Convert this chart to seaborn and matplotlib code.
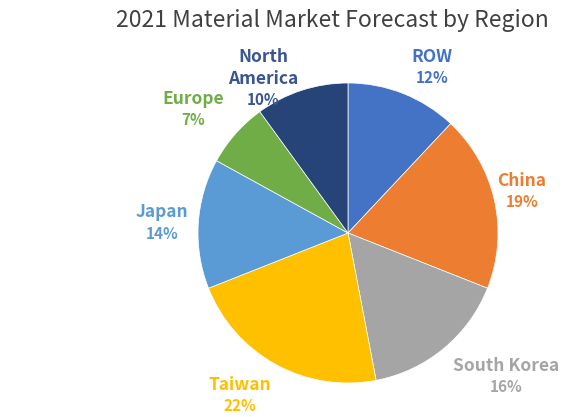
import numpy as np
import matplotlib
matplotlib.use("Agg")
import matplotlib.pyplot as plt
import seaborn as sns

regions = ["ROW", "China", "South Korea", "Taiwan", "Japan", "Europe", "North\nAmerica"]
shares = [12, 19, 16, 22, 14, 7, 10]
colors = ["#4472C4", "#ED7D31", "#A5A5A5", "#FFC000", "#5B9BD5", "#70AD47", "#264478"]
label_colors = ["#4472C4", "#ED7D31", "#A5A5A5", "#FFC000", "#5B9BD5", "#70AD47", "#3A5591"]
# label anchor positions in polar form (radius in pie radii, angle in degrees)
label_dist = [1.231, 1.191, 1.427, 1.306, 1.241, 1.319, 1.106]
label_angle = [62.9, 13.1, -42.4, -123.4, 177.2, 141.6, 120.8]

sns.set_theme(style="white")
plt.rcParams['font.family'] = ['Noto Sans CJK SC', 'DejaVu Sans']

fig = plt.figure(figsize=(5.63, 4.17), dpi=100)
W, H = 563, 417
cx, cy, r = 348, 417 - 233, 150
ax = fig.add_axes([(cx - r) / W, (cy - r) / H, 2 * r / W, 2 * r / H])

wedges, _ = ax.pie(shares, colors=colors, startangle=90, counterclock=False,
                   radius=1, wedgeprops=dict(edgecolor="white", linewidth=0.5))
ax.set_xlim(-1, 1)
ax.set_ylim(-1, 1)
ax.set_aspect("equal")
ax.axis("off")

for name, val, col, d, a in zip(regions, shares, label_colors, label_dist, label_angle):
    t = np.deg2rad(a)
    x, y = d * np.cos(t), d * np.sin(t)
    ax.annotate(name, (x, y), xytext=(0, 1.8), textcoords="offset points", ha="center", va="bottom",
                color=col, fontsize=12.5, fontweight="semibold", linespacing=1.25, annotation_clip=False)
    ax.annotate(f"{val}%", (x, y), xytext=(0, -1.2), textcoords="offset points", ha="center", va="top",
                color=col, fontsize=11, fontweight="semibold", annotation_clip=False)

fig.text(332 / W, 1 - 20 / H, "2021 Material Market Forecast by Region", ha="center", va="center",
         fontsize=16.5, color="#404040", fontweight="light")

fig.savefig("out.png", dpi=100)
